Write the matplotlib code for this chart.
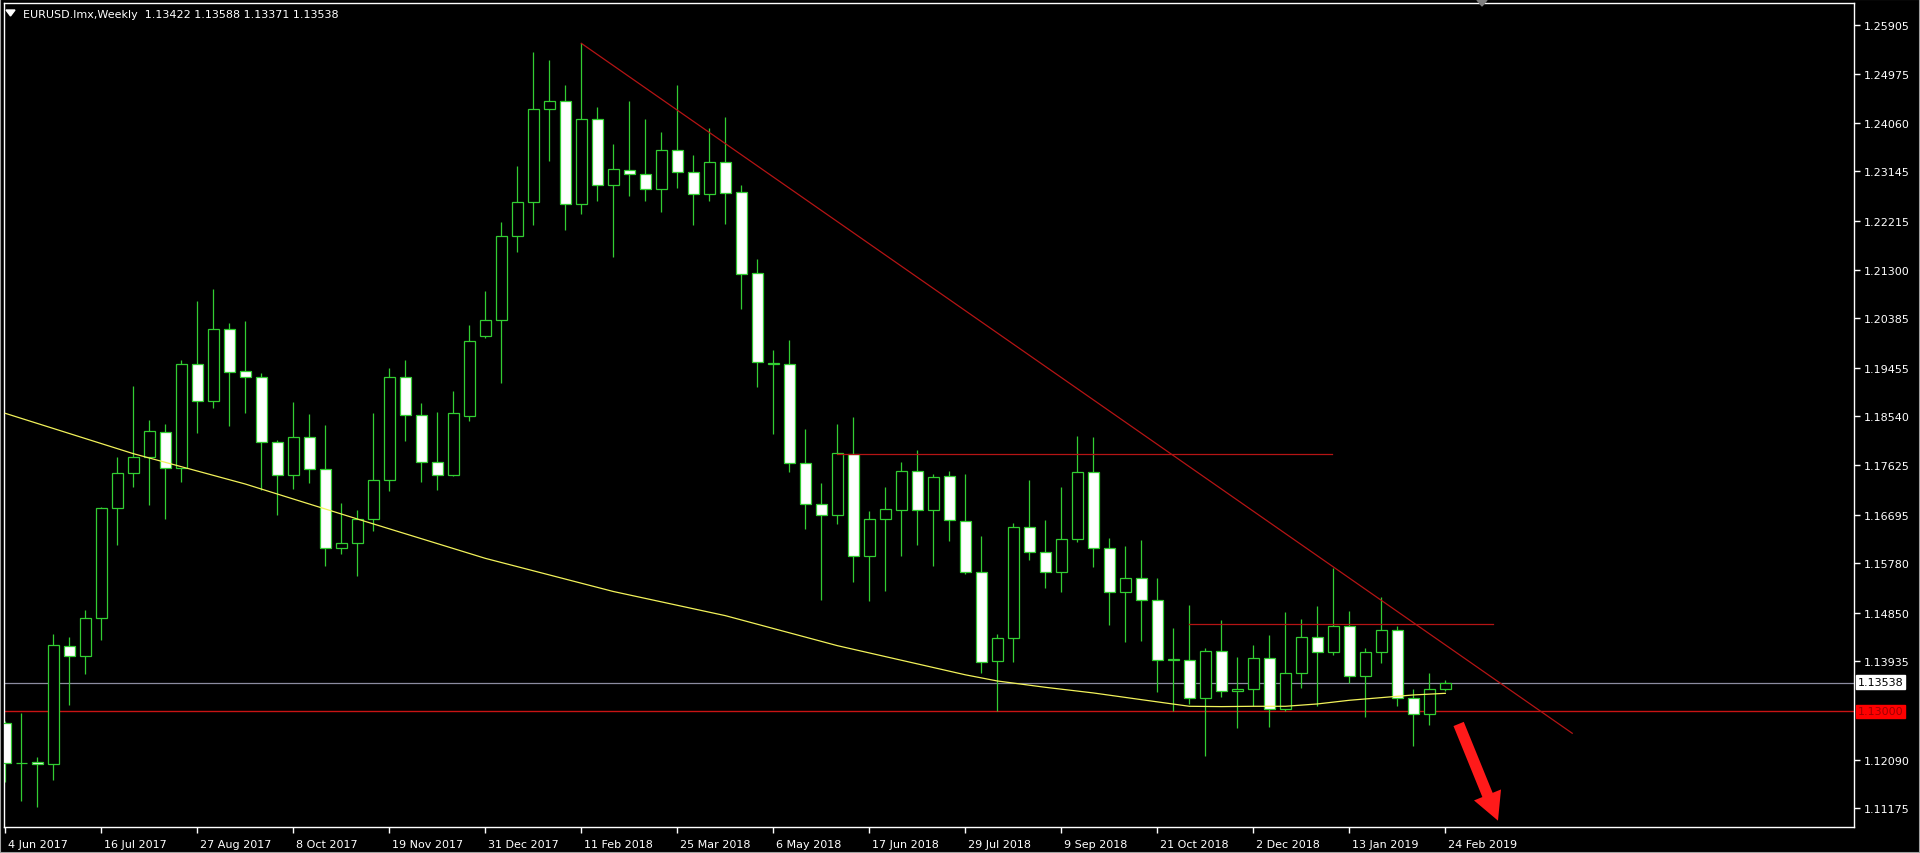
import matplotlib
matplotlib.use("Agg")
import matplotlib.pyplot as plt
from matplotlib.patches import Rectangle, Polygon, FancyArrowPatch
from matplotlib.transforms import ScaledTranslation

# weekly EURUSD bars, index 0 = week of 4 Jun 2017
opens = [
    1.12772, 1.12020, 1.12045, 1.12001, 1.14232, 1.14031, 1.14746, 1.16813, 1.17471, 1.17772,
    1.18255, 1.17565, 1.19520, 1.18824, 1.20178, 1.19393, 1.19278, 1.18069, 1.17432, 1.18150,
    1.17546, 1.16069, 1.16156, 1.16606, 1.17344, 1.19275, 1.18567, 1.17678, 1.17440, 1.18555,
    1.20046, 1.20359, 1.21926, 1.22565, 1.24313, 1.24463, 1.22527, 1.24125, 1.22891, 1.23179,
    1.23091, 1.22809, 1.23542, 1.23129, 1.22715, 1.23317, 1.22750, 1.21237, 1.19520, 1.19520,
    1.17659, 1.16888, 1.16682, 1.17841, 1.15923, 1.16613, 1.16782, 1.17521, 1.16782, 1.17415,
    1.16582, 1.15611, 1.13950, 1.14370, 1.16457, 1.15987, 1.15611, 1.16231, 1.17490, 1.16062,
    1.15235, 1.15498, 1.15097, 1.13960, 1.13969, 1.13242, 1.14138, 1.13374, 1.13418, 1.13994,
    1.13042, 1.13712, 1.14389, 1.14107, 1.14596, 1.13656, 1.14119, 1.14533, 1.13242, 1.12948,
    1.13422,
]
highs = [
    1.12822, 1.12966, 1.12133, 1.14451, 1.14388, 1.14902, 1.16845, 1.17772, 1.19106, 1.18474,
    1.18398, 1.19601, 1.20710, 1.20940, 1.20297, 1.20333, 1.19365, 1.18100, 1.18808, 1.18586,
    1.18385, 1.16915, 1.16774, 1.18607, 1.19446, 1.19607, 1.18793, 1.18617, 1.19018, 1.20259,
    1.20892, 1.22195, 1.23248, 1.25384, 1.25234, 1.24764, 1.25554, 1.24351, 1.23661, 1.24470,
    1.24125, 1.23887, 1.24764, 1.23455, 1.23956, 1.24160, 1.22900, 1.21500, 1.19789, 1.19977,
    1.18304, 1.17289, 1.18398, 1.18530, 1.16757, 1.17208, 1.17678, 1.17903, 1.17459, 1.17509,
    1.17459, 1.16287, 1.14451, 1.16538, 1.17346, 1.16594, 1.17208, 1.18170, 1.18150, 1.16250,
    1.16099, 1.16218, 1.15498, 1.14558, 1.14997, 1.14195, 1.14721, 1.14013, 1.14245, 1.14433,
    1.14859, 1.14733, 1.14972, 1.15692, 1.14890, 1.14182, 1.15141, 1.14596, 1.13418, 1.13718,
    1.13588,
]
lows = [
    1.11663, 1.11318, 1.11193, 1.11713, 1.13123, 1.13699, 1.14345, 1.16124, 1.17220, 1.16876,
    1.16613, 1.17314, 1.18229, 1.18693, 1.18367, 1.18613, 1.17163, 1.16693, 1.17183, 1.17297,
    1.15733, 1.15955, 1.15532, 1.16378, 1.17130, 1.18085, 1.17302, 1.17164, 1.17414, 1.18461,
    1.20008, 1.19163, 1.21638, 1.22145, 1.23348, 1.22051, 1.22352, 1.22596, 1.21544, 1.22690,
    1.22596, 1.22389, 1.22841, 1.22145, 1.22596, 1.22160, 1.20560, 1.19100, 1.18210, 1.17502,
    1.16425, 1.15096, 1.16519, 1.15435, 1.15078, 1.15266, 1.15911, 1.16130, 1.15735, 1.16205,
    1.15580, 1.13718, 1.13010, 1.13931, 1.15849, 1.15310, 1.15247, 1.16175, 1.15705, 1.14627,
    1.14307, 1.14320, 1.13355, 1.12998, 1.13129, 1.12152, 1.13274, 1.12678, 1.13092, 1.12697,
    1.13010, 1.13430, 1.13104, 1.14057, 1.13524, 1.12885, 1.13900, 1.13104, 1.12340, 1.12741,
    1.13371,
]
closes = [
    1.12020, 1.12034, 1.12007, 1.14244, 1.14031, 1.14746, 1.16819, 1.17471, 1.17772, 1.18261,
    1.17565, 1.19520, 1.18824, 1.20178, 1.19370, 1.19284, 1.18069, 1.17432, 1.18150, 1.17546,
    1.16069, 1.16156, 1.16606, 1.17344, 1.19278, 1.18567, 1.17678, 1.17440, 1.18605, 1.19952,
    1.20359, 1.21926, 1.22565, 1.24313, 1.24463, 1.22533, 1.24125, 1.22891, 1.23185, 1.23097,
    1.22809, 1.23542, 1.23129, 1.22715, 1.23317, 1.22734, 1.21210, 1.19558, 1.19540, 1.17659,
    1.16888, 1.16682, 1.17847, 1.15923, 1.16613, 1.16794, 1.17509, 1.16782, 1.17396, 1.16594,
    1.15611, 1.13931, 1.14370, 1.16457, 1.15987, 1.15611, 1.16231, 1.17490, 1.16062, 1.15235,
    1.15498, 1.15097, 1.13969, 1.13975, 1.13242, 1.14138, 1.13374, 1.13418, 1.13994, 1.13042,
    1.13712, 1.14389, 1.14107, 1.14596, 1.13656, 1.14119, 1.14533, 1.13242, 1.12948, 1.13411,
    1.13538,
]

# moving average (yellow), read at some bars
ma_bars = [0, 8, 15, 22, 30, 38, 45, 52, 60, 62, 65, 68, 71, 74, 76, 78, 80, 82, 84, 86, 88, 90]
ma_vals = [1.18599, 1.17841, 1.17270, 1.16613, 1.15873, 1.15250, 1.14796, 1.14232, 1.13684,
           1.13568, 1.13449, 1.13343, 1.13217, 1.13092, 1.13086, 1.13092, 1.13092, 1.13136,
           1.13205, 1.13255, 1.13305, 1.13336]

date_labels = ["4 Jun 2017", "16 Jul 2017", "27 Aug 2017", "8 Oct 2017", "19 Nov 2017",
               "31 Dec 2017", "11 Feb 2018", "25 Mar 2018", "6 May 2018", "17 Jun 2018",
               "29 Jul 2018", "9 Sep 2018", "21 Oct 2018", "2 Dec 2018", "13 Jan 2019",
               "24 Feb 2019"]
date_bars = [6 * i for i in range(len(date_labels))]

price_ticks = [1.25905, 1.24975, 1.24060, 1.23145, 1.22215, 1.21300, 1.20385, 1.19455,
               1.18540, 1.17625, 1.16695, 1.15780, 1.14850, 1.13935, 1.12090, 1.11175]

last_price = 1.13538
support = 1.13000
# drawn objects: (bar0, price0, bar1, price1)
trend_down = (36, 1.25554, 97.93, 1.12585)
hline_upper = (52, 1.17841, 82.9, 1.17841)
hline_lower = (74, 1.14635, 92.96, 1.14635)
arrow_pts = (90.83, 1.12760, 93.29, 1.10942)

W, H = 1920, 854
GREEN = "#32cd32"
plt.rcParams["font.family"] = ["DejaVu Sans"]

fig = plt.figure(figsize=(W / 100, H / 100), dpi=100, facecolor="black")
ax = fig.add_axes([4 / W, 26 / H, 1850 / W, 824 / H])
ax.set_facecolor("black")

half = 0.33
for i, (o, h, l, c) in enumerate(zip(opens, highs, lows, closes)):
    ax.plot([i, i], [l, h], color=GREEN, lw=0.9, zorder=2, solid_capstyle="butt")
    face = "white" if c < o else "black"
    ax.add_patch(Rectangle((i - half, min(o, c)), 2 * half, abs(c - o),
                           facecolor=face, edgecolor=GREEN, lw=0.9, zorder=3))

ax.plot(ma_bars, ma_vals, color="#f2f25a", lw=0.9, zorder=4)

ax.axhline(last_price, color="#8c8ca0", lw=0.9, zorder=1)
ax.axhline(support, color="#c81414", lw=1.0, zorder=1)
for b0, p0, b1, p1 in (trend_down, hline_upper, hline_lower):
    ax.plot([b0, b1], [p0, p1], color="#b41414", lw=0.9, zorder=5)

ax.add_patch(FancyArrowPatch(arrow_pts[:2], arrow_pts[2:],
                             arrowstyle="simple,head_length=2.0,head_width=2.1,tail_width=0.8",
                             mutation_scale=10, color="#ff1a1a", lw=0, shrinkA=0, shrinkB=0,
                             zorder=6))

ax.set_xlim(-0.08, 115.54)
ax.set_ylim(1.10823, 1.26312)

ax.yaxis.tick_right()
ax.set_yticks(price_ticks)
ax.set_yticklabels([f"{p:.5f}" for p in price_ticks])
ax.set_xticks(date_bars)
ax.set_xticklabels(date_labels, ha="left")
ax.tick_params(axis="both", colors="white", length=4, width=1, direction="out", labelsize=8)
ax.tick_params(axis="y", pad=3)
ax.tick_params(axis="x", pad=5)
for lbl in ax.get_xticklabels():
    lbl.set_transform(lbl.get_transform() + ScaledTranslation(3 / 100, 0, fig.dpi_scale_trans))
for s in ax.spines.values():
    s.set_color("white")
    s.set_linewidth(1)

# price tags on the right scale
fig.text(1858 / W, 1 - 683 / H, f"{last_price:.5f}", color="black", fontsize=8,
         va="center", ha="left",
         bbox=dict(facecolor="white", edgecolor="white", boxstyle="square,pad=0.15"))
fig.text(1858 / W, 1 - 712.5 / H, f"{support:.5f}", color="#a00000", fontsize=8,
         va="center", ha="left",
         bbox=dict(facecolor="#ff0000", edgecolor="#ff0000", boxstyle="square,pad=0.15"))

# header
fig.text(23 / W, 1 - 14.5 / H,
         "EURUSD.lmx,Weekly  1.13422 1.13588 1.13371 1.13538",
         color="white", fontsize=8, va="center", ha="left")
fig.add_artist(Polygon([[6 / W, 1 - 11 / H], [15 / W, 1 - 11 / H], [10.5 / W, 1 - 17 / H]],
                       closed=True, color="white", transform=fig.transFigure))
fig.add_artist(Polygon([[1477 / W, 1 - 1 / H], [1487 / W, 1 - 1 / H], [1482 / W, 1 - 7 / H]],
                       closed=True, color="#808080", transform=fig.transFigure))
fig.add_artist(Rectangle((0, 0), 1, 1, transform=fig.transFigure, fill=False,
                         edgecolor="#a0a0a0", lw=1.5))

fig.savefig("out.png", dpi=100, facecolor="black")
